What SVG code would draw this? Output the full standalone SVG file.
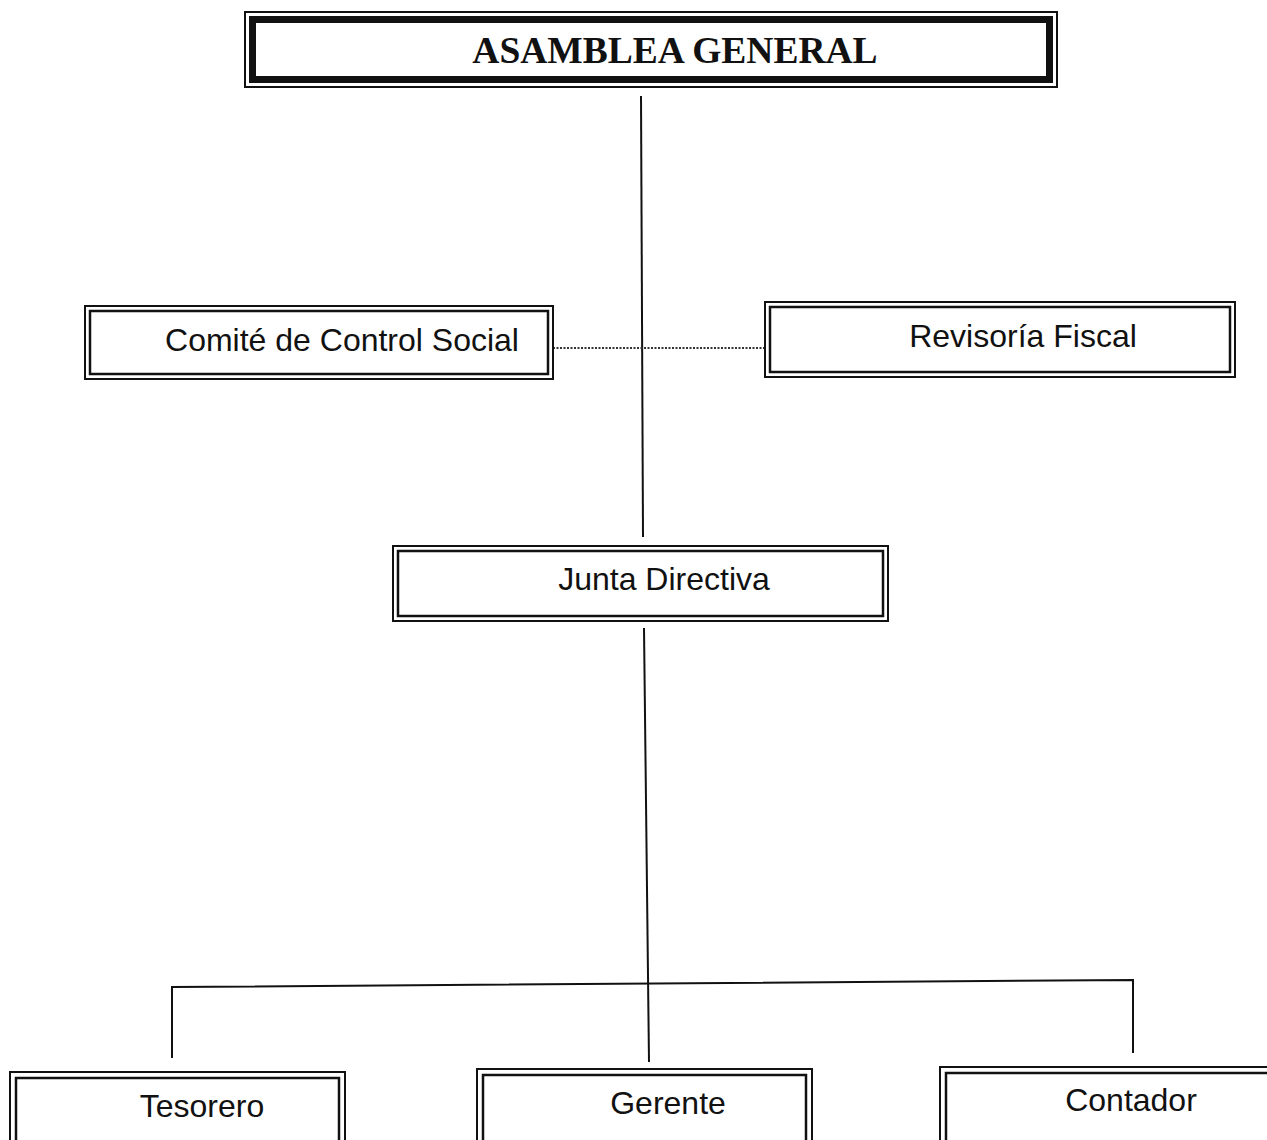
<svg xmlns="http://www.w3.org/2000/svg" width="1267" height="1140" viewBox="0 0 1267 1140">
<style>
.o{fill:none;stroke:#111;stroke-width:2}
.i{fill:#fff;stroke:#111;stroke-width:2.5}
.ti{fill:#fff;stroke:#111;stroke-width:7}
.t{font-family:"Liberation Sans",Arial,sans-serif;font-size:32px;fill:#111;text-anchor:middle}
.h{font-family:"Liberation Serif","Times New Roman",serif;font-size:37.5px;font-weight:bold;fill:#111;text-anchor:middle}
.c{stroke:#111;stroke-width:2;fill:none}
.d{stroke:#333;stroke-width:2;fill:none;stroke-dasharray:2 1.5}
</style>
<rect width="1267" height="1140" fill="#fff"/>
<g id="connectors">
<line class="c" x1="641" y1="96" x2="643" y2="537"/>
<line class="d" x1="553" y1="348" x2="766" y2="348"/>
<line class="c" x1="644" y1="628" x2="649" y2="1062"/>
<polyline class="c" points="172,1058 172,987 1133,980 1133,1053"/>
</g>
<g id="asamblea">
<rect class="o" x="245" y="12" width="812" height="75"/>
<rect class="ti" x="252.5" y="19.5" width="797" height="60"/>
<text class="h" x="675" y="63">ASAMBLEA GENERAL</text>
</g>
<g id="comite">
<rect class="o" x="85" y="306" width="468" height="73"/>
<rect class="i" x="90" y="311" width="458" height="63"/>
<text class="t" x="342" y="351">Comité de Control Social</text>
</g>
<g id="revisoria">
<rect class="o" x="765" y="302" width="470" height="75"/>
<rect class="i" x="770" y="307" width="460" height="65"/>
<text class="t" x="1023" y="347">Revisoría Fiscal</text>
</g>
<g id="junta">
<rect class="o" x="393" y="546" width="495" height="75"/>
<rect class="i" x="398" y="551" width="485" height="65"/>
<text class="t" x="664" y="590">Junta Directiva</text>
</g>
<g id="tesorero">
<rect class="o" x="10" y="1072" width="335" height="80"/>
<rect class="i" x="16" y="1078" width="323" height="70"/>
<text class="t" x="202" y="1117">Tesorero</text>
</g>
<g id="gerente">
<rect class="o" x="477" y="1069" width="335" height="80"/>
<rect class="i" x="483" y="1075" width="323" height="70"/>
<text class="t" x="668" y="1114">Gerente</text>
</g>
<g id="contador">
<rect class="o" x="940" y="1067" width="340" height="80"/>
<rect class="i" x="946" y="1073" width="330" height="70"/>
<text class="t" x="1131" y="1111">Contador</text>
</g>
</svg>
